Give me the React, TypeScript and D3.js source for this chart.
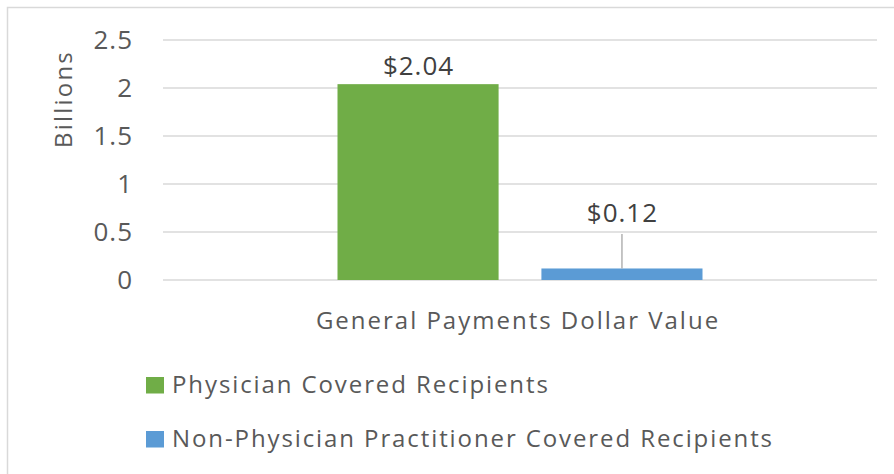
import React from "react";
import * as d3 from "d3";

const categories = ["General Payments Dollar Value"];
const seriesNames = ["Physician Covered Recipients", "Non-Physician Practitioner Covered Recipients"];
const seriesValues = [2.04, 0.12];
const seriesLabels = ["$2.04", "$0.12"];
const seriesColors = ["#70ad47", "#5b9bd5"];
const yTicks = [0, 0.5, 1, 1.5, 2, 2.5];
const yTickLabels = ["0", "0.5", "1", "1.5", "2", "2.5"];

const W = 894;
const H = 474;
const FONT = "'Open Sans', Lato, 'Liberation Sans', Arial, sans-serif";
const TEXT = "#595959";
const FS = 24;
const LS = 2;

export default function App() {
  const plot = { left: 163, right: 877, top: 40, bottom: 280 };
  const y = d3.scaleLinear().domain([0, 2.5]).range([plot.bottom, plot.top]);
  const x0 = d3.scaleBand().domain(categories).range([plot.left, plot.right]).paddingInner(0).paddingOuter(0);
  const x1 = d3
    .scaleBand()
    .domain(seriesNames)
    .range([0, 365])
    .paddingInner(0.21)
    .paddingOuter(0);
  const groupOffset = (x0.bandwidth() - 365) / 2;

  return (
    <svg width={W} height={H} style={{ display: "block", position: "absolute", left: 0, top: 0 }}>
      <rect x={0} y={0} width={W} height={H} fill="#fff" />
      <rect x={7.5} y={7.5} width={W + 20} height={H + 20} fill="none" stroke="#d9d9d9" strokeWidth={1.5} />
      {yTicks.map((t, i) => (
        <g key={t}>
          <line x1={plot.left} x2={plot.right} y1={y(t)} y2={y(t)} stroke="#d9d9d9" strokeWidth={1.3} />
          <text
            x={133}
            y={y(t)}
            dy="0.36em"
            textAnchor="end"
            fontFamily={FONT}
            fontSize={26}
            letterSpacing={1}
            fill={TEXT}
          >
            {yTickLabels[i]}
          </text>
        </g>
      ))}
      <text
        transform={`translate(72,99) rotate(-90)`}
        textAnchor="middle"
        fontFamily={FONT}
        fontSize={FS}
        letterSpacing={2.2}
        fill={TEXT}
      >
        Billions
      </text>
      {categories.map((c) => (
        <g key={c}>
          {seriesNames.map((s, i) => {
            const bx = (x0(c) as number) + groupOffset + (x1(s) as number);
            const bw = x1.bandwidth();
            const top = y(seriesValues[i]);
            const cx = bx + bw / 2;
            const small = plot.bottom - top < 30;
            const labelY = small ? 222 : top - 9;
            return (
              <g key={s}>
                <rect x={bx} y={top} width={bw} height={plot.bottom - top} fill={seriesColors[i]} />
                {small && (
                  <line x1={cx} x2={cx} y1={234} y2={top} stroke="#a6a6a6" strokeWidth={1.3} />
                )}
                <text
                  x={cx + 0.5}
                  y={labelY}
                  textAnchor="middle"
                  fontFamily={FONT}
                  fontSize={26}
                  letterSpacing={1}
                  fill="#404040"
                >
                  {seriesLabels[i]}
                </text>
              </g>
            );
          })}
          <text
            x={(x0(c) as number) + x0.bandwidth() / 2 - 2}
            y={329}
            textAnchor="middle"
            fontFamily={FONT}
            fontSize={FS}
            letterSpacing={LS}
            fill={TEXT}
          >
            {c}
          </text>
        </g>
      ))}
      {seriesNames.map((s, i) => (
        <g key={s} transform={`translate(146, ${377 + i * 54})`}>
          <rect x={0} y={0} width={18} height={16.5} fill={seriesColors[i]} />
          <text x={26} y={15.5} fontFamily={FONT} fontSize={FS} letterSpacing={LS - 0.1} fill={TEXT}>
            {s}
          </text>
        </g>
      ))}
    </svg>
  );
}
